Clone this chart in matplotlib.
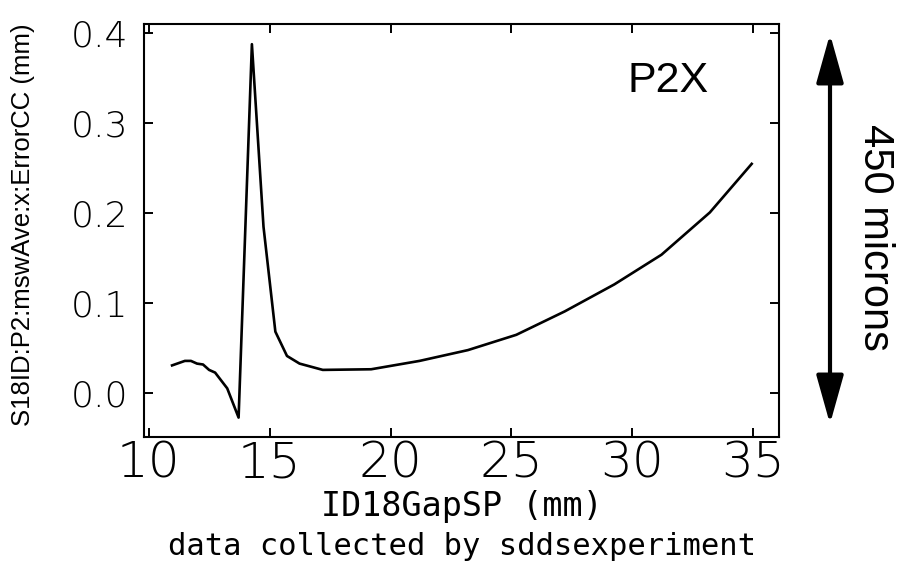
import matplotlib
matplotlib.use("Agg")
import matplotlib.pyplot as plt

# gap setpoint (mm) and P2 x error (mm)
gap = [10.97, 11.5, 11.75, 12.0, 12.25, 12.5, 12.75, 13.25, 13.72, 14.27,
       14.75, 15.24, 15.72, 16.24, 17.2, 19.2, 21.2, 23.2, 25.2, 27.2,
       29.25, 31.2, 33.2, 34.93]
err = [0.031, 0.036, 0.036, 0.033, 0.032, 0.026, 0.023, 0.0055, -0.027, 0.388,
       0.185, 0.0685, 0.0415, 0.033, 0.026, 0.0267, 0.036, 0.048, 0.065, 0.091,
       0.121, 0.154, 0.201, 0.255]

xticks = [10, 15, 20, 25, 30, 35]
yticks = [0.0, 0.1, 0.2, 0.3, 0.4]
ytick_labels = ['0.0', '0.1', '0.2', '0.3', '0.4']

fig = plt.figure(figsize=(9, 5.61), dpi=100)
ax = fig.add_axes([0.16, 0.221, 0.7056, 0.736])

ax.plot(gap, err, color='k', lw=1.9)

ax.set_xlim(9.81, 36.06)
ax.set_ylim(-0.0486, 0.4103)
ax.set_xticks(xticks)
ax.set_yticks(yticks)
ax.set_yticklabels(ytick_labels)
ax.tick_params(direction='in', top=True, right=True, length=6.5, width=1.4)
ax.tick_params(axis='x', labelsize=36, pad=2)
ax.tick_params(axis='y', labelsize=26, pad=11)
for lab in ax.get_xticklabels() + ax.get_yticklabels():
    lab.set_fontfamily('DejaVu Sans')
    lab.set_fontweight('light')
for sp in ax.spines.values():
    sp.set_linewidth(1.5)

fig.text(0.026, 0.599, 'S18ID:P2:mswAve:x:ErrorCC (mm)', rotation=90,
         ha='center', va='center', fontsize=18.5, family='Liberation Sans')
fig.text(0.513, 0.0802, 'ID18GapSP (mm)', ha='center', va='baseline',
         fontsize=24, family='DejaVu Sans Mono')
fig.text(0.513, 0.0107, 'data collected by sddsexperiment', ha='center',
         va='baseline', fontsize=22, family='DejaVu Sans Mono')

fig.text(0.742, 0.856, 'P2X', ha='center', va='center', fontsize=31,
         family='Liberation Sans')

ax.annotate('', xy=(830, 137), xytext=(830, 527), xycoords='figure pixels',
            textcoords='figure pixels',
            arrowprops=dict(arrowstyle='<|-|>,head_length=1.5,head_width=0.42',
                            lw=3, color='k', shrinkA=0, shrinkB=0,
                            mutation_scale=20),
            annotation_clip=False)
fig.text(0.972, 0.576, '450 microns', rotation=-90, ha='center', va='center',
         fontsize=30, family='Liberation Sans')

fig.savefig('out.png', dpi=100)
